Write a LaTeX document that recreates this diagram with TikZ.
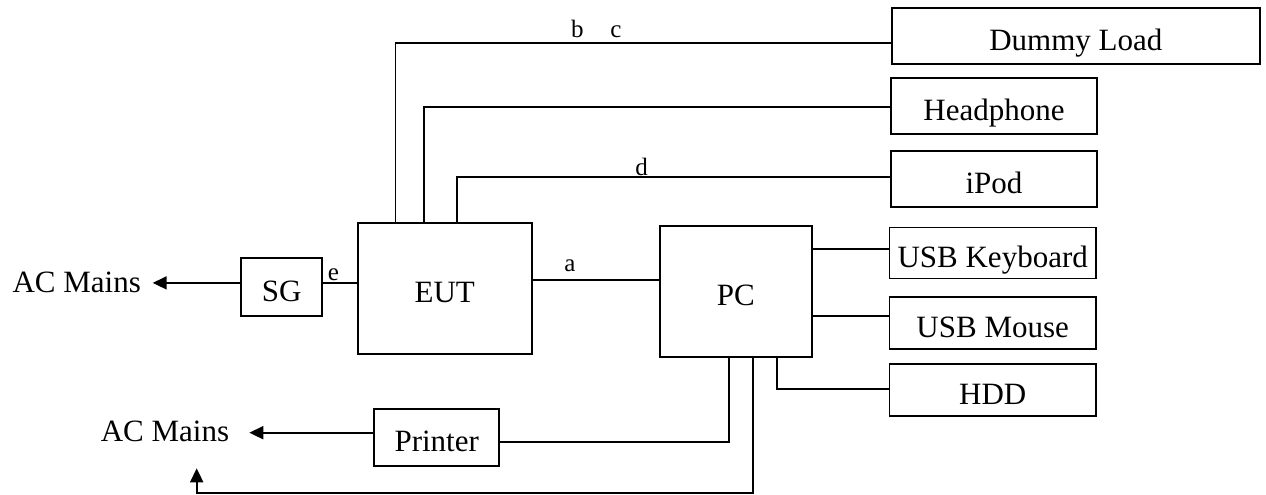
\documentclass[tikz,border=0pt]{standalone}
\usepackage{fontspec}
\setmainfont{Liberation Serif}
\usetikzlibrary{arrows.meta}
\begin{document}
\begin{tikzpicture}[x=1pt,y=-1pt,
  box/.style={draw,line width=1.8pt,inner sep=0pt,text height=28.4pt,text depth=0pt,font=\fontsize{31}{36}\selectfont},
  lbl/.style={inner sep=0pt,anchor=base,font=\fontsize{25}{30}\selectfont},
  txt/.style={inner sep=0pt,font=\fontsize{31}{36}\selectfont},
  wire/.style={line width=1.8pt},
  arr/.style={wire,-{Triangle[length=14pt,width=13pt]}}]
\useasboundingbox (0,0) rectangle (1266,495);
% boxes
\node[box,minimum width=368pt,minimum height=56pt] (dl) at (1075.8,36.3) {Dummy Load};
\node[box,minimum width=206.6pt,minimum height=56.6pt] (hp) at (994,106) {Headphone};
\node[box,minimum width=206.6pt,minimum height=56.6pt] (ip) at (994,179) {iPod};
\node[box,minimum width=206.5pt,minimum height=51pt] (kb) at (992.7,253) {USB Keyboard};
\node[box,minimum width=206.5pt,minimum height=51.7pt] (ms) at (992.7,323) {USB Mouse};
\node[box,minimum width=206.5pt,minimum height=51.7pt] (hdd) at (992.7,390) {HDD};
\node[box,minimum width=152.3pt,minimum height=131pt] (pc) at (735.8,291.5) {PC};
\node[box,minimum width=174pt,minimum height=131pt] (eut) at (444.7,288.2) {EUT};
\node[box,minimum width=81pt,minimum height=57.4pt] (sg) at (281.8,287) {SG};
\node[box,minimum width=125.3pt,minimum height=56.7pt] (pr) at (436.7,437.7) {Printer};
% texts
\node[txt,anchor=base] (ac1) at (76.7,292.3) {AC Mains};
\node[txt,anchor=base east] (ac2) at (229.3,441.7) {AC Mains};
\node[lbl] (lb) at (577.3,37.3) {b};
\node[lbl] (lc) at (616,37.3) {c};
\node[lbl] (ld) at (641.7,175.7) {d};
\node[lbl] (le) at (333.3,280) {e};
\node[lbl] (la) at (570,271.7) {a};
% helper coordinates
\coordinate (ybc) at (0,42.7);
\coordinate (yhp) at (0,106.7);
\coordinate (yip) at (0,176.7);
\coordinate (xb) at (395.5,0);
\coordinate (xh) at (424,0);
\coordinate (xd) at (456.7,0);
\coordinate (ye) at (0,282.9);
\coordinate (ya) at (0,280);
\coordinate (ykb) at (0,249.3);
\coordinate (yms) at (0,316);
\coordinate (yhd) at (0,389);
\coordinate (xp1) at (728.7,0);
\coordinate (xp2) at (753.3,0);
\coordinate (xp3) at (777,0);
\coordinate (ypr) at (0,442.3);
\coordinate (yprl) at (0,432.7);
\coordinate (bot) at (0,492.7);
\coordinate (ac1tip) at (152.7,282.9);
\coordinate (ac2tip) at (249.3,432.7);
\coordinate (ac2up) at (196.7,468.3);
% connectors
\draw[wire] (eut.north -| xb) |- (dl.west |- ybc);
\draw[wire] (eut.north -| xh) |- (hp.west |- yhp);
\draw[wire] (eut.north -| xd) |- (ip.west |- yip);
\draw[wire] (sg.east |- ye) -- (eut.west |- ye);
\draw[arr] (sg.west |- ye) -- (ac1tip);
\draw[wire] (eut.east |- ya) -- (pc.west |- ya);
\draw[wire] (pc.east |- ykb) -- (kb.west |- ykb);
\draw[wire] (pc.east |- yms) -- (ms.west |- yms);
\draw[wire] (pc.south -| xp3) |- (hdd.west |- yhd);
\draw[wire] (pc.south -| xp1) |- (pr.east |- ypr);
\draw[arr] (pr.west |- yprl) -- (ac2tip);
\draw[arr] (pc.south -| xp2) |- (ac2up |- bot) -- (ac2up);
\end{tikzpicture}
\end{document}
